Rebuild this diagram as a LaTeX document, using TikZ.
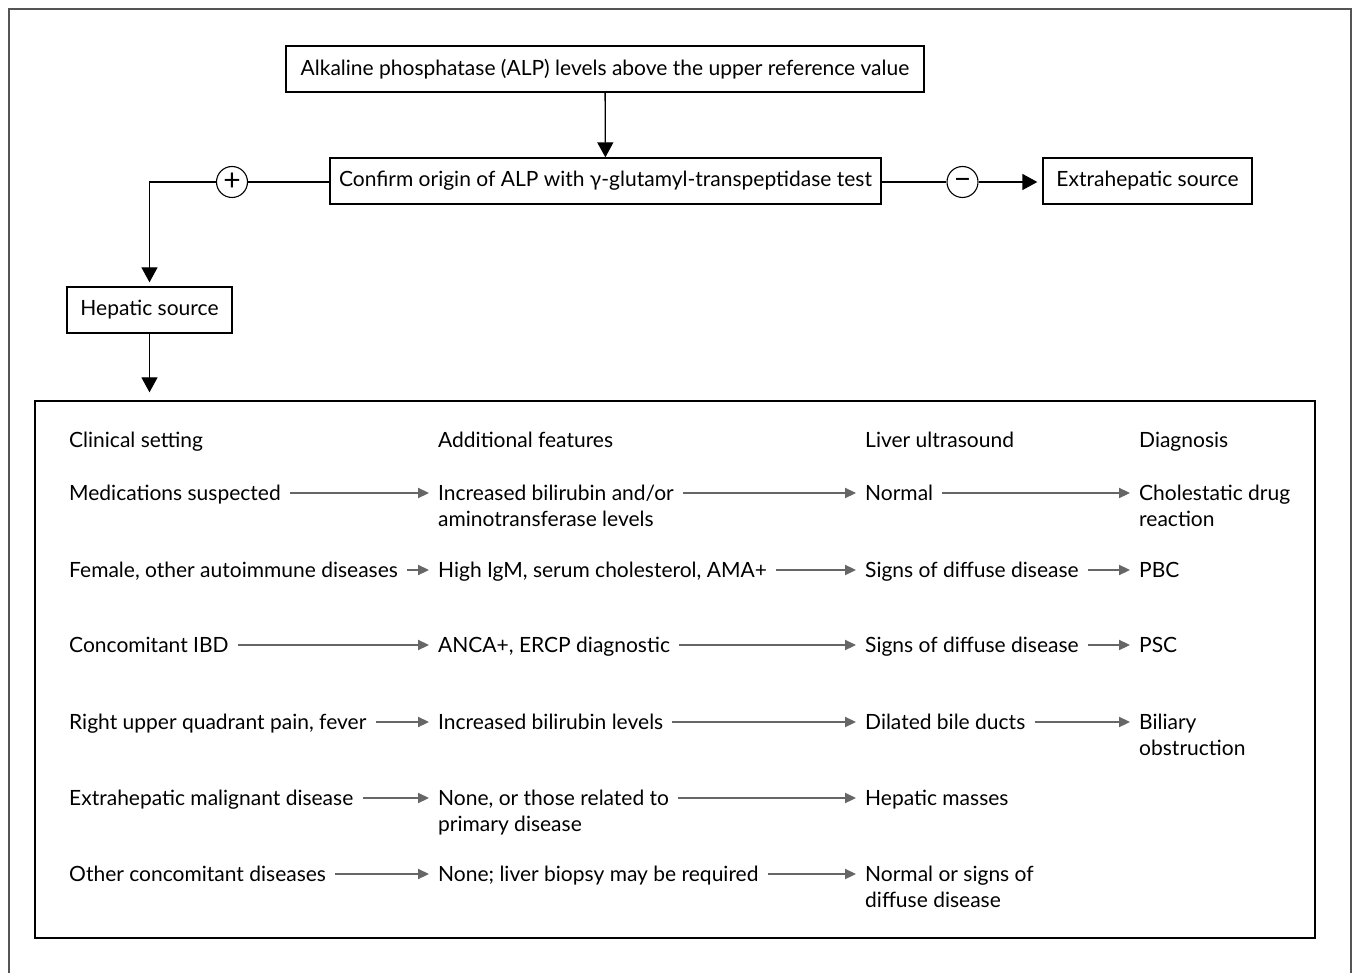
\documentclass[tikz,border=0pt]{standalone}
\usepackage{fontspec}
\setmainfont{Lato}
\usetikzlibrary{arrows.meta,calc}
\definecolor{arrgray}{HTML}{666666}
\definecolor{framegray}{HTML}{555555}
\newcommand\twolines[2]{\vtop{\hbox{#1}\hbox{#2}}}
\begin{document}
\begin{tikzpicture}[x=1pt,y=-1pt,
  every node/.style={font=\fontsize{21}{26}\selectfont},
  flowbox/.style={draw, line width=1.3pt, minimum height=46pt, inner sep=0pt},
  sign/.style={draw, circle, line width=1.1pt, minimum size=31pt, inner sep=0pt, font=\fontsize{30}{30}\selectfont},
  cell/.style={anchor=base west, inner sep=0pt},
  blk/.style={line width=1.3pt, -{Triangle[width=16pt,length=15pt]}},
  conn/.style={line width=1.3pt},
  garrow/.style={line width=2.2pt, arrgray, -{Triangle[width=10pt,length=11pt]}, shorten <=9pt, shorten >=9pt}]
\useasboundingbox (0,0) rectangle (1352,973);
% outer frame
\draw[framegray, line width=1.2pt] (9,980) -- (9,9) -- (1351,9) -- (1351,980);

% top flow
\node[flowbox, minimum width=638pt] (alp) at (605,69) {Alkaline phosphatase (ALP) levels above the upper reference value};
\node[flowbox, minimum width=551pt] (conf) at (605.5,181) {Confirm origin of ALP with γ-glutamyl-transpeptidase test};
\node[flowbox, minimum width=209pt] (extra) at (1147.5,181) {Extrahepatic source};
\node[flowbox, minimum width=165pt] (hep) at (149.5,310) {Hepatic source};
\node[sign] (plus) at (232,182) {\raisebox{1pt}{+}};
\node[sign] (minus) at (962.5,182) {\raisebox{-8pt}[0pt][0pt]{−}};
\node[draw, line width=1.3pt, minimum width=1280pt, minimum height=537pt, inner sep=0pt] (big) at (675,669.5) {};

\draw[blk] (alp) -- (conf);
\draw[conn] (conf.west |- plus) -- (plus);
\draw[blk, shorten >=4pt] (plus) -| (hep.north);
\draw[conn] (conf.east |- minus) -- (minus);
\draw[blk, shorten >=5pt] (minus) -- (extra.west |- minus);
\draw[blk, shorten >=8pt] (hep.south) -- (hep.south |- big.north);

% table
\node[cell] (h1) at (69,447) {Clinical setting};
\node[cell] (h2) at (438,447) {Additional features};
\node[cell] (h3) at (865,447) {Liver ultrasound};
\node[cell] (h4) at (1139,447) {Diagnosis};

\node[cell] (c1) at (69,500) {Medications suspected};
\node[cell] (a1) at (438,500) {\twolines{Increased bilirubin and/or}{aminotransferase levels}};
\node[cell] (u1) at (865,500) {Normal};
\node[cell] (d1) at (1139,500) {\twolines{Cholestatic drug}{reaction}};

\node[cell] (c2) at (69,577) {Female, other autoimmune diseases};
\node[cell] (a2) at (438,577) {High IgM, serum cholesterol, AMA+};
\node[cell] (u2) at (865,577) {Signs of diffuse disease};
\node[cell] (d2) at (1139,577) {PBC};

\node[cell] (c3) at (69,652) {Concomitant IBD};
\node[cell] (a3) at (438,652) {ANCA+, ERCP diagnostic};
\node[cell] (u3) at (865,652) {Signs of diffuse disease};
\node[cell] (d3) at (1139,652) {PSC};

\node[cell] (c4) at (69,729) {Right upper quadrant pain, fever};
\node[cell] (a4) at (438,729) {Increased bilirubin levels};
\node[cell] (u4) at (865,729) {Dilated bile ducts};
\node[cell] (d4) at (1139,729) {\twolines{Biliary}{obstruction}};

\node[cell] (c5) at (69,805) {Extrahepatic malignant disease};
\node[cell] (a5) at (438,805) {\twolines{None, or those related to}{primary disease}};
\node[cell] (u5) at (865,805) {Hepatic masses};

\node[cell] (c6) at (69,881) {Other concomitant diseases};
\node[cell] (a6) at (438,881) {None; liver biopsy may be required};
\node[cell] (u6) at (865,881) {\twolines{Normal or signs of}{diffuse disease}};

\foreach \r in {1,2,3,4}{
  \draw[garrow] ([yshift=7pt]c\r.base east) -- ([yshift=7pt]a\r.base west);
  \draw[garrow] ([yshift=7pt]a\r.base east) -- ([yshift=7pt]u\r.base west);
  \draw[garrow] ([yshift=7pt]u\r.base east) -- ([yshift=7pt]d\r.base west);
}
\foreach \r in {5,6}{
  \draw[garrow] ([yshift=7pt]c\r.base east) -- ([yshift=7pt]a\r.base west);
  \draw[garrow] ([yshift=7pt]a\r.base east) -- ([yshift=7pt]u\r.base west);
}
\end{tikzpicture}
\end{document}
